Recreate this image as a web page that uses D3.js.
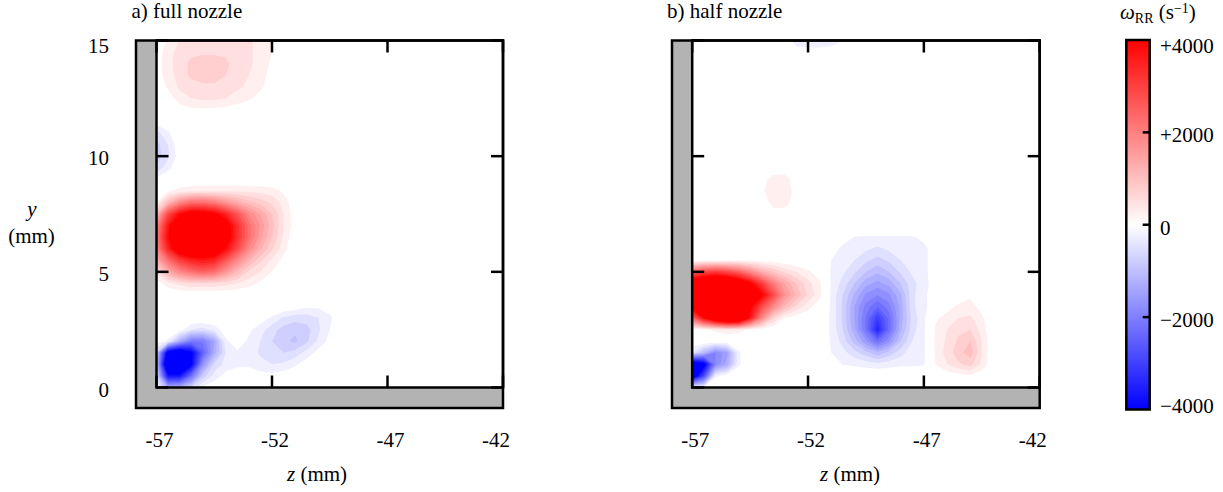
<!DOCTYPE html>
<html>
<head>
<meta charset="utf-8">
<script src="https://cdn.jsdelivr.net/npm/d3@7"></script>
<style>
  body { margin: 0; background: #ffffff; }
  svg text { font-family: "Liberation Serif", "LiberationSerif", Tinos, "Times New Roman", Times, "Nimbus Roman", "DejaVu Serif", serif; font-size: 21px; fill: #000; }
</style>
</head>
<body>
<svg id="chart" width="1223" height="492"></svg>
<script>
// ---- axes and labels ----
const zTicks = [-57, -52, -47, -42];
const zTickLabels = ["-57", "-52", "-47", "-42"];
const yTicks = [0, 5, 10, 15];
const yTickLabels = ["0", "5", "10", "15"];
const panelTitles = ["a) full nozzle", "b) half nozzle"];
const colorbarTicks = [4000, 2000, 0, -2000, -4000];
const colorbarTickLabels = ["+4000", "+2000", "0", "\u22122000", "\u22124000"];

// ---- contour levels (s^-1) ----
const levelStep = 250;
const levelMax = 4000;

// ---- reaction-rate fields omega_RR, in units of 100 s^-1 ----
// rows: y = 15 mm (first) down to y = 0 mm (last), every 0.5 mm
// columns: z = -57 mm (first) to z = -42 mm (last), every 0.5 mm
const gridUnit = 100;
const gridSpacing = 0.5;
const gridZStart = -57;
const gridYStart = 15;

const fullNozzleGrid = [
  [0,3,5,6,6.5,6.5,6.5,6,5.5,4,2.5, 0,0,0,0,0,0,0,0,0,0,0,0,0,0,0,0,0,0,0,0],
  [1,4,6,7,7,7,7,6.5,5.5,4,2.5, 0,0,0,0,0,0,0,0,0,0,0,0,0,0,0,0,0,0,0,0],
  [1,4,6.5,8,9,9,8,6.5,5.5,4,2, 0,0,0,0,0,0,0,0,0,0,0,0,0,0,0,0,0,0,0,0],
  [1,4,6,8,8.5,8.5,7.5,6,5,3.5,1.5, 0,0,0,0,0,0,0,0,0,0,0,0,0,0,0,0,0,0,0,0],
  [0,3,5.5,6.5,7,7,6.5,5.5,4.5,3,1, 0,0,0,0,0,0,0,0,0,0,0,0,0,0,0,0,0,0,0,0],
  [0,1,4,5,5.5,5.5,5,4,3,1.5,0, 0,0,0,0,0,0,0,0,0,0,0,0,0,0,0,0,0,0,0,0],
  [0,0,1,2,2,2,1.5,1,0,0,0, 0,0,0,0,0,0,0,0,0,0,0,0,0,0,0,0,0,0,0,0],
  [-1,0,0,0,0,0,0,0,0,0,0, 0,0,0,0,0,0,0,0,0,0,0,0,0,0,0,0,0,0,0,0],
  [-6,-3,0,0,0,0,0,0,0,0,0, 0,0,0,0,0,0,0,0,0,0,0,0,0,0,0,0,0,0,0,0],
  [-8.5,-5,-0.5,0,0,0,0,0,0,0,0, 0,0,0,0,0,0,0,0,0,0,0,0,0,0,0,0,0,0,0,0],
  [-9,-5.5,-1,0,0,0,0,0,0,0,0, 0,0,0,0,0,0,0,0,0,0,0,0,0,0,0,0,0,0,0,0],
  [-7,-3.5,0,0,0,0,0,0,0,0,0, 0,0,0,0,0,0,0,0,0,0,0,0,0,0,0,0,0,0,0,0],
  [-1.5,0,0,0,0,0,0,0,0,0,0, 0,0,0,0,0,0,0,0,0,0,0,0,0,0,0,0,0,0,0,0],
  [0.5,2,3.5,4,4.5,4.5,4.5,4.5,4.5,4,3.5,2,0, 0,0,0,0,0,0,0,0,0,0,0,0,0,0,0,0,0,0],
  [2.5,12,20,24,24,22,18,14,11,9,7,4,0.5, 0,0,0,0,0,0,0,0,0,0,0,0,0,0,0,0,0,0],
  [12,30,40,45,45,42,36,28,20,15,10,5,1, 0,0,0,0,0,0,0,0,0,0,0,0,0,0,0,0,0,0],
  [20,38,52,58,58,54,45,34,24,17,11,5,1, 0,0,0,0,0,0,0,0,0,0,0,0,0,0,0,0,0,0],
  [22,40,54,60,60,56,46,34,24,16,10,4.5,0.5, 0,0,0,0,0,0,0,0,0,0,0,0,0,0,0,0,0,0],
  [20,36,48,52,52,48,40,30,20,13,8,3.5,0, 0,0,0,0,0,0,0,0,0,0,0,0,0,0,0,0,0,0],
  [14,24,32,36,38,36,28,20,13,8,4.5,1.5,0, 0,0,0,0,0,0,0,0,0,0,0,0,0,0,0,0,0,0],
  [6,14,20,24,26,24,18,12,7,5,2.5,0.5,0, 0,0,0,0,0,0,0,0,0,0,0,0,0,0,0,0,0,0],
  [1,4,6,7,7,7,6,5,3.5,2,0.5,0,0, 0,0,0,0,0,0,0,0,0,0,0,0,0,0,0,0,0,0],
  [0,0,0,0,0,0,0,0,0,0,0,0,0, 0,0,0,0,0,0,0,0,0,0,0,0,0,0,0,0,0,0],
  [0,0,0,0,0,0,0,0,0,0,0,0,-1,-2,-2,-1.5,0, 0,0,0,0,0,0,0,0,0,0,0,0,0,0],
  [0,0,0,0,0,0,0,0,0,-1,-3,-5.5,-6.5,-6.5,-5,-3,-0.5, 0,0,0,0,0,0,0,0,0,0,0,0,0,0],
  [0,0,-1,-5,-6,-4,-1,0,-2,-4,-6.5,-8.5,-9.5,-8.5,-5.5,-2.5,0, 0,0,0,0,0,0,0,0,0,0,0,0,0,0],
  [-1,-3,-14,-22,-22,-15,-3,-1,-3,-5,-7.5,-9.5,-10.5,-8,-4.5,-1.5,0, 0,0,0,0,0,0,0,0,0,0,0,0,0,0],
  [-8,-45,-50,-42,-26,-14,-5,-3,-3.5,-5.5,-7,-7.5,-6.5,-4,-1.5,0,0, 0,0,0,0,0,0,0,0,0,0,0,0,0,0],
  [-10,-55,-56,-42,-18,-7,-4,-3,-3,-4,-5,-4.5,-3,-1,0,0,0, 0,0,0,0,0,0,0,0,0,0,0,0,0,0],
  [-6,-38,-38,-24,-9,-4,-1.5,-1,-1,-1.5,-1.5,-1,-0.5,0,0,0,0, 0,0,0,0,0,0,0,0,0,0,0,0,0,0],
  [-2,-14,-13,-7,-2,-0.5,0,0,0,0,0,0,0,0,0,0,0, 0,0,0,0,0,0,0,0,0,0,0,0,0,0]
];

const halfNozzleGrid = [
  [0,0,0,0,0,0,0,0,-1,-3.5,-4,-4,-3.5,-2.5,0, 0,0,0,0,0,0,0,0,0,0,0,0,0,0,0,0],
  [0,0,0,0,0,0,0,0,0,-1.5,-1.5,-1.5,-1.5,-1,0, 0,0,0,0,0,0,0,0,0,0,0,0,0,0,0,0],
  [0,0,0,0,0,0,0,0,0,0,0,0,0,0,0, 0,0,0,0,0,0,0,0,0,0,0,0,0,0,0,0],
  [0,0,0,0,0,0,0,0,0,0,0,0,0,0,0, 0,0,0,0,0,0,0,0,0,0,0,0,0,0,0,0],
  [0,0,0,0,0,0,0,0,0,0,0,0,0,0,0, 0,0,0,0,0,0,0,0,0,0,0,0,0,0,0,0],
  [0,0,0,0,0,0,0,0,0,0,0,0,0,0,0, 0,0,0,0,0,0,0,0,0,0,0,0,0,0,0,0],
  [0,0,0,0,0,0,0,0,0,0,0,0,0,0,0, 0,0,0,0,0,0,0,0,0,0,0,0,0,0,0,0],
  [0,0,0,0,0,0,0,0,0,0,0,0,0,0,0, 0,0,0,0,0,0,0,0,0,0,0,0,0,0,0,0],
  [0,0,0,0,0,0,0,0,0,0,0,0,0,0,0, 0,0,0,0,0,0,0,0,0,0,0,0,0,0,0,0],
  [0,0,0,0,0,0,0,0,0,0,0,0,0,0,0, 0,0,0,0,0,0,0,0,0,0,0,0,0,0,0,0],
  [0,0,0,0,0,0,0,0,0,0,0,0,0,0,0, 0,0,0,0,0,0,0,0,0,0,0,0,0,0,0,0],
  [0,0,0,0,0,0,0,1,1,0,0,0,0,0,0, 0,0,0,0,0,0,0,0,0,0,0,0,0,0,0,0],
  [0,0,0,0,0,0,1.5,3.5,3.5,1,0,0,0,0,0, 0,0,0,0,0,0,0,0,0,0,0,0,0,0,0,0],
  [1,0,0,0,0,0,2,4,4,1.5,0,0,0,0,0, 0,0,0,0,0,0,0,0,0,0,0,0,0,0,0,0],
  [2.8,1,0,0,0,0,0,4,4,0.5,0,0,0,0,0, 0,0,0,0,0,0,0,0,0,0,0,0,0,0,0,0],
  [1,0,0,0,0,0,0,1,0.5,0,0,0,0,0,0, 0,0,0,0,0,0,0,0,0,0,0,0,0,0,0,0],
  [0,0,0,0,0,0,0,0,0,0,0,0,0,0,0, 0,0,0,0,0,0,0,0,0,0,0,0,0,0,0,0],
  [0,0,0,0,0,0,0,0,0,0,0, 0,0,-1.5,-2.6,-2.8,-2.8,-2.8,-2.8,-2.7,-2,-1,0, 0,0,0,0,0,0,0,0],
  [0,0,0,0,0,0,0,0,0,0,0, 0,-1.5,-3,-3.5,-4.5,-5.5,-4.5,-3.5,-3,-3,-1.5,0, 0,0,0,0,0,0,0,0],
  [0.5,1,1.5,2,2,2,1.5,1,0.5,0,0, 0,-2.5,-3.5,-5,-7,-8.5,-7,-5,-3.5,-3,-1.5,0, 0,0,0,0,0,0,0,0],
  [25,30,32,30,26,20,14,10,7,5,3, 1,-2.8,-4.5,-7,-10,-12,-10,-7,-4.5,-3,-1.5,0, 0,0,0,0,0,0,0,0],
  [50,55,58,55,50,42,32,22,15,10,6, 3,-2.8,-6,-10,-14,-16,-14,-10,-6,-3.2,-1.5,0, 0,0,0,0,0,0,0,0],
  [55,62,65,62,56,46,42,30,18,12,7, 3.5,-3,-7.5,-13,-18,-20,-18,-13,-5.5,-3.5, 0,0,1,2,1,0, 0,0,0,0],
  [45,55,60,58,52,42,30,20,12,7,3.5, 1,-3,-8,-15,-21,-25,-21,-14,-5.5,-3.5, 0,1.5,3,3.5,1.5,0, 0,0,0,0],
  [25,40,52,60,58,38,20,8,2.5,1,0.5, 0,-3,-8,-15,-23,-32,-24,-14,-6.5,-3.2, 2,3.5,5,5.5,3,0, 0,0,0,0],
  [1,2,3,4,3.5,2,1,0,0,0,0, 0,-3,-7.5,-14,-23,-36,-24,-13,-6,-3, 3,5,7,7.5,4,0, 0,0,0,0],
  [0,0,0,0,0,0,0,0,0,0,0, 0,-2.8,-6,-11,-17,-24,-18,-10,-5,-3, 3,5.5,8,10,5,0, 0,0,0,0],
  [-5,-12,-20,-16,-3,0,0,0,0,0,0, 0,-2.5,-4,-6.5,-9,-12,-9,-6,-3.5,-3, 3,6,9,11.5,5,0, 0,0,0,0],
  [-50,-44,-20,-14,-3,0,0,0,0,0,0, 0,-1,-2.6,-3,-3.5,-4,-3.5,-3,-3,-2.8, 2.5,5,7,8.5,4.5,0, 0,0,0,0],
  [-48,-30,-3,-1,0,0,0,0,0,0,0, 0,0,0,0,0,0,0,0,0,0, 0.5,1,1.5,2,0.5,0, 0,0,0,0],
  [-3,-2,0,0,0,0,0,0,0,0,0, 0,0,0,0,0,0,0,0,0,0, 0,0,0,0,0,0, 0,0,0,0]
];

// ---- drawing ----
const svg = d3.select("#chart");
const defs = svg.append("defs");
const grey = "#b3b3b3";
const lineW = 2.5;
const tickLen = 12;

const panelLayouts = [
  { frameLeft: 136,   plotLeft: 156.5, plotRight: 503,    titleX: 131.5, xLabelX: 317 },
  { frameLeft: 672,   plotLeft: 692.2, plotRight: 1039.7, titleX: 667,   xLabelX: 850 }
];
const plotTop = 40.5, plotBottom = 387.5, frameBottom = 408;

const redScale = d3.interpolateRgb("#ffffff", "#ff0000");
const blueScale = d3.interpolateRgb("#ffffff", "#0000ff");
const thresholds = d3.range(1, levelMax / levelStep + 1).map(k => k * levelStep / gridUnit);

function drawPanel(grid, layout, title, idx) {
  const ny = grid.length, nx = grid[0].length;
  const x = d3.scaleLinear().domain([-57, -42]).range([layout.plotLeft, layout.plotRight]);
  const y = d3.scaleLinear().domain([0, 15]).range([plotBottom, plotTop]);
  const g = svg.append("g");

  // wall (grey L) and plot background
  g.append("rect")
    .attr("x", layout.frameLeft).attr("y", plotTop)
    .attr("width", layout.plotRight - layout.frameLeft).attr("height", frameBottom - plotTop)
    .attr("fill", grey);
  g.append("rect")
    .attr("x", layout.plotLeft).attr("y", plotTop)
    .attr("width", layout.plotRight - layout.plotLeft).attr("height", plotBottom - plotTop)
    .attr("fill", "#ffffff");

  // filled contours
  const clipId = "clip" + idx;
  defs.append("clipPath").attr("id", clipId).append("rect")
    .attr("x", layout.plotLeft).attr("y", plotTop)
    .attr("width", layout.plotRight - layout.plotLeft).attr("height", plotBottom - plotTop);

  const proj = d3.geoTransform({
    point(cx, cy) {
      this.stream.point(
        x(gridZStart + (cx - 0.5) * gridSpacing),
        y(gridYStart - (cy - 0.5) * gridSpacing)
      );
    }
  });
  const path = d3.geoPath(proj);
  const flat = grid.flat();
  const gen = d3.contours().size([nx, ny]).thresholds(thresholds);
  const pos = gen(flat);
  const neg = gen(flat.map(v => -v));

  const cg = g.append("g").attr("clip-path", `url(#${clipId})`);
  cg.selectAll("path.pos").data(pos).join("path")
    .attr("class", "pos")
    .attr("d", path)
    .attr("fill", d => redScale(Math.min(d.value * gridUnit / levelMax, 1)));
  cg.selectAll("path.neg").data(neg).join("path")
    .attr("class", "neg")
    .attr("d", path)
    .attr("fill", d => blueScale(Math.min(d.value * gridUnit / levelMax, 1)));

  // frames
  g.append("rect")
    .attr("x", layout.frameLeft).attr("y", plotTop)
    .attr("width", layout.plotRight - layout.frameLeft).attr("height", frameBottom - plotTop)
    .attr("fill", "none").attr("stroke", "#000").attr("stroke-width", lineW);
  g.append("rect")
    .attr("x", layout.plotLeft).attr("y", plotTop)
    .attr("width", layout.plotRight - layout.plotLeft).attr("height", plotBottom - plotTop)
    .attr("fill", "none").attr("stroke", "#000").attr("stroke-width", lineW);

  // inward ticks on all four sides
  const tg = g.append("g").attr("stroke", "#000").attr("stroke-width", lineW);
  zTicks.forEach(v => {
    tg.append("line").attr("x1", x(v)).attr("x2", x(v)).attr("y1", plotBottom).attr("y2", plotBottom - tickLen);
    tg.append("line").attr("x1", x(v)).attr("x2", x(v)).attr("y1", plotTop).attr("y2", plotTop + tickLen);
  });
  yTicks.forEach(v => {
    tg.append("line").attr("x1", layout.plotLeft).attr("x2", layout.plotLeft + tickLen).attr("y1", y(v)).attr("y2", y(v));
    tg.append("line").attr("x1", layout.plotRight).attr("x2", layout.plotRight - tickLen).attr("y1", y(v)).attr("y2", y(v));
  });

  // tick labels
  zTicks.forEach((v, i) => {
    const px = Math.min(x(v) + 3, layout.plotRight - 7);
    g.append("text").attr("x", px).attr("y", 446.5)
      .attr("text-anchor", "middle").text(zTickLabels[i]);
  });

  // axis title and panel title
  const xl = g.append("text").attr("x", layout.xLabelX).attr("y", 481).attr("text-anchor", "middle");
  xl.append("tspan").attr("font-style", "italic").text("z");
  xl.append("tspan").text(" (mm)");
  g.append("text").attr("x", layout.titleX).attr("y", 18).text(title);

  return y;
}

const yScaleA = drawPanel(fullNozzleGrid, panelLayouts[0], panelTitles[0], 0);
drawPanel(halfNozzleGrid, panelLayouts[1], panelTitles[1], 1);

// y tick labels (left panel only)
yTicks.forEach((v, i) => {
  svg.append("text")
    .attr("x", 109).attr("y", Math.max(yScaleA(v) + 2, 46))
    .attr("dominant-baseline", "central")
    .attr("text-anchor", "end").text(yTickLabels[i]);
});
svg.append("text").attr("x", 32).attr("y", 216).attr("text-anchor", "middle")
  .attr("font-style", "italic").text("y");
svg.append("text").attr("x", 31.5).attr("y", 243).attr("text-anchor", "middle").text("(mm)");

// ---- colour bar ----
const cbLeft = 1126.3, cbRight = 1149.7, cbTop = 40, cbBottom = 409.5;
const cbScale = d3.scaleLinear().domain([-levelMax, levelMax]).range([cbBottom, cbTop]);
const grad = defs.append("linearGradient").attr("id", "cbgrad")
  .attr("x1", 0).attr("y1", 0).attr("x2", 0).attr("y2", 1);
grad.append("stop").attr("offset", "0%").attr("stop-color", "#ff0000");
grad.append("stop").attr("offset", "50%").attr("stop-color", "#ffffff");
grad.append("stop").attr("offset", "100%").attr("stop-color", "#0000ff");
svg.append("rect")
  .attr("x", cbLeft).attr("y", cbTop).attr("width", cbRight - cbLeft).attr("height", cbBottom - cbTop)
  .attr("fill", "url(#cbgrad)").attr("stroke", "#000").attr("stroke-width", lineW);
colorbarTicks.forEach((v, i) => {
  if (v !== levelMax && v !== -levelMax) {
    svg.append("line").attr("x1", cbRight).attr("x2", cbRight - 7)
      .attr("y1", cbScale(v)).attr("y2", cbScale(v))
      .attr("stroke", "#000").attr("stroke-width", lineW);
  }
  svg.append("text").attr("x", 1160)
    .attr("y", Math.min(Math.max(cbScale(v) + 3, 46), 406))
    .attr("dominant-baseline", "central")
    .text(colorbarTickLabels[i]);
});
// colour bar title: omega_RR (s^-1)
const cbTitle = svg.append("text").attr("x", 1120).attr("y", 19).attr("font-size", "20px");
cbTitle.append("tspan").attr("font-style", "italic").text("\u03C9");
cbTitle.append("tspan").attr("font-size", "14px").attr("dy", 4).text("RR");
cbTitle.append("tspan").attr("dy", -4).text(" (s");
cbTitle.append("tspan").attr("font-size", "14px").attr("dy", -6).text("\u22121");
cbTitle.append("tspan").attr("dy", 6).text(")");
</script>
</body>
</html>
